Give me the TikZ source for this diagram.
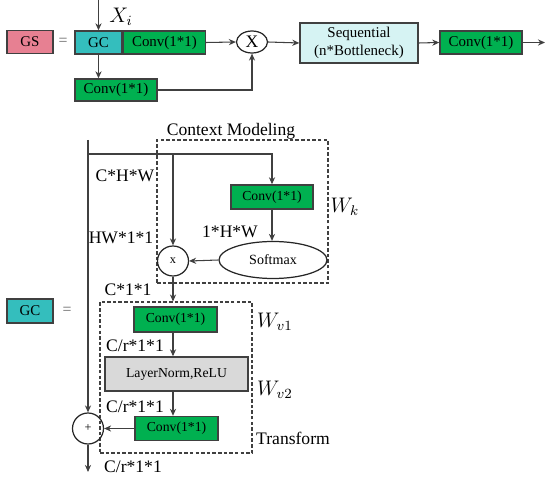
\documentclass[tikz,border=0pt]{standalone}
\usepackage{fontspec}
\setmainfont{Liberation Serif}
\usetikzlibrary{shapes,arrows.meta,positioning}

\definecolor{gspink}{RGB}{231,128,146}
\definecolor{gcteal}{RGB}{52,190,189}
\definecolor{convgreen}{RGB}{0,176,80}
\definecolor{seqcyan}{RGB}{214,243,243}
\definecolor{lngray}{RGB}{217,217,217}

\begin{document}
\begin{tikzpicture}[
    box/.style={draw=black!75, line width=0.8pt, inner sep=1pt, font=\fontsize{8.5}{10}\selectfont},
    convbox/.style={box, fill=convgreen, minimum width=1.64cm, minimum height=0.46cm},
    smallconv/.style={convbox, font=\fontsize{7.8}{9}\selectfont, minimum height=0.48cm},
    opnode/.style={ellipse, draw=black!85, line width=0.7pt, inner sep=0pt},
    direction/.style={-{Stealth[length=4pt,width=3.5pt]}, line width=0.6pt, draw=black!75},
    lbl/.style={font=\fontsize{10}{12}\selectfont, inner sep=0pt},
    mlbl/.style={font=\fontsize{12}{14}\selectfont, inner sep=0pt},
    eqsign/.style={text=black!60, font=\small, inner sep=0pt},
    frame/.style={draw=black!75, line width=0.6pt, dash pattern=on 2pt off 1.2pt}
]
    \useasboundingbox (0,0) rectangle (11,-9.62);

    % GS block, top row
    \node[box, fill=gspink, minimum width=0.92cm, minimum height=0.46cm] (GS) at (0.6,-0.84) {GS};
    \node[eqsign] (eq1) at (1.26,-0.84) {=};
    \node[box, fill=gcteal, minimum width=0.94cm, minimum height=0.46cm] (GC) at (1.97,-0.85) {GC};
    \node[convbox, anchor=west] (conv1) at (GC.east) {Conv(1*1)};
    \node[mlbl] (xi) at (2.42,-0.34) {$X_i$};
    \coordinate (in) at (1.97,0);
    \node[convbox, minimum height=0.44cm] (conv2) at (2.32,-1.8) {Conv(1*1)};
    \node[opnode, minimum width=0.62cm, minimum height=0.44cm, font=\fontsize{10}{12}\selectfont] (mult) at (5.04,-0.84) {X};
    \node[box, fill=seqcyan, minimum width=2.36cm, minimum height=0.8cm, align=center] (seq) at (7.18,-0.86) {Sequential\\(n*Bottleneck)};
    \node[convbox] (conv3) at (9.62,-0.85) {Conv(1*1)};
    \coordinate (out1) at (10.9,-0.85);

    \draw[direction] (in) -- (GC.north);
    \draw[direction] (GC.south) -- (GC.south |- conv2.north);
    \draw[direction] (conv1.east) -- (mult.west);
    \draw[direction] (conv2.east) -| (mult.south);
    \draw[direction] (mult.east) -- (seq.west);
    \draw[direction] (seq.east) -- (conv3.west);
    \draw[direction] (conv3.east) -- (out1);

    % GC block, context modeling
    \node[box, fill=gcteal, minimum width=0.92cm, minimum height=0.48cm] (GC2) at (0.6,-6.22) {GC};
    \node[eqsign] (eq2) at (1.34,-6.22) {=};
    \node[frame, minimum width=3.42cm, minimum height=2.86cm] (ctxbox) at (4.85,-4.23) {};
    \node[lbl] (ctxlbl) at (4.62,-2.62) {Context Modeling};
    \node[smallconv] (ctxconv) at (5.44,-3.94) {Conv(1*1)};
    \node[mlbl] (wk) at (6.9,-4.14) {$W_k$};
    \node[opnode, minimum width=2.16cm, minimum height=0.74cm, font=\fontsize{8}{9}\selectfont] (soft) at (5.46,-5.2) {Softmax};
    \node[opnode, minimum width=0.62cm, minimum height=0.6cm, font=\fontsize{7}{8}\selectfont] (mul2) at (3.46,-5.22) {x};
    \node[lbl] (l1) at (2.5,-3.52) {C*H*W};
    \node[lbl] (l2) at (4.6,-4.64) {1*H*W};
    \node[lbl] (l3) at (2.42,-4.76) {HW*1*1};
    \node[lbl] (l4) at (2.56,-5.8) {C*1*1};

    % transform part
    \node[frame, minimum width=3.04cm, minimum height=3.02cm] (tbox) at (3.52,-7.55) {};
    \node[smallconv, minimum width=1.66cm, minimum height=0.5cm] (tconv1) at (3.51,-6.39) {Conv(1*1)};
    \node[box, fill=lngray, minimum width=2.86cm, minimum height=0.68cm, font=\fontsize{7.8}{9}\selectfont] (LN) at (3.53,-7.48) {LayerNorm,ReLU};
    \node[smallconv, minimum width=1.66cm] (tconv2) at (3.53,-8.57) {Conv(1*1)};
    \node[mlbl] (wv1) at (5.5,-6.44) {$W_{v1}$};
    \node[mlbl] (wv2) at (5.5,-7.8) {$W_{v2}$};
    \node[lbl] (tlbl) at (5.86,-8.76) {Transform};
    \node[lbl] (l5) at (2.7,-6.92) {C/r*1*1};
    \node[lbl] (l6) at (2.7,-8.14) {C/r*1*1};
    \node[lbl] (l7) at (2.66,-9.34) {C/r*1*1};
    \node[opnode, minimum size=0.62cm, font=\fontsize{7}{8}\selectfont] (plus) at (1.76,-8.57) {+};

    \coordinate (top) at (1.76,-2.8);
    \coordinate (split) at (1.76,-3.08);
    \coordinate (out2) at (1.76,-9.44);

    \draw[direction] (top) -- (plus.north);
    \draw[direction] (split) -| (ctxconv.north);
    \draw[direction] (split -| mul2) -- (mul2.north);
    \draw[direction] (ctxconv.south) -- (ctxconv.south |- soft.north);
    \draw[direction] (soft.west) -- (mul2.east);
    \draw[direction] (mul2.south) -- (mul2.south |- tbox.north);
    \draw[direction] (tconv1.south -| mul2) -- (LN.north -| mul2);
    \draw[direction] (LN.south -| mul2) -- (tconv2.north -| mul2);
    \draw[direction] (tconv2.west) -- (plus.east);
    \draw[direction] (plus.south) -- (out2);
\end{tikzpicture}
\end{document}
